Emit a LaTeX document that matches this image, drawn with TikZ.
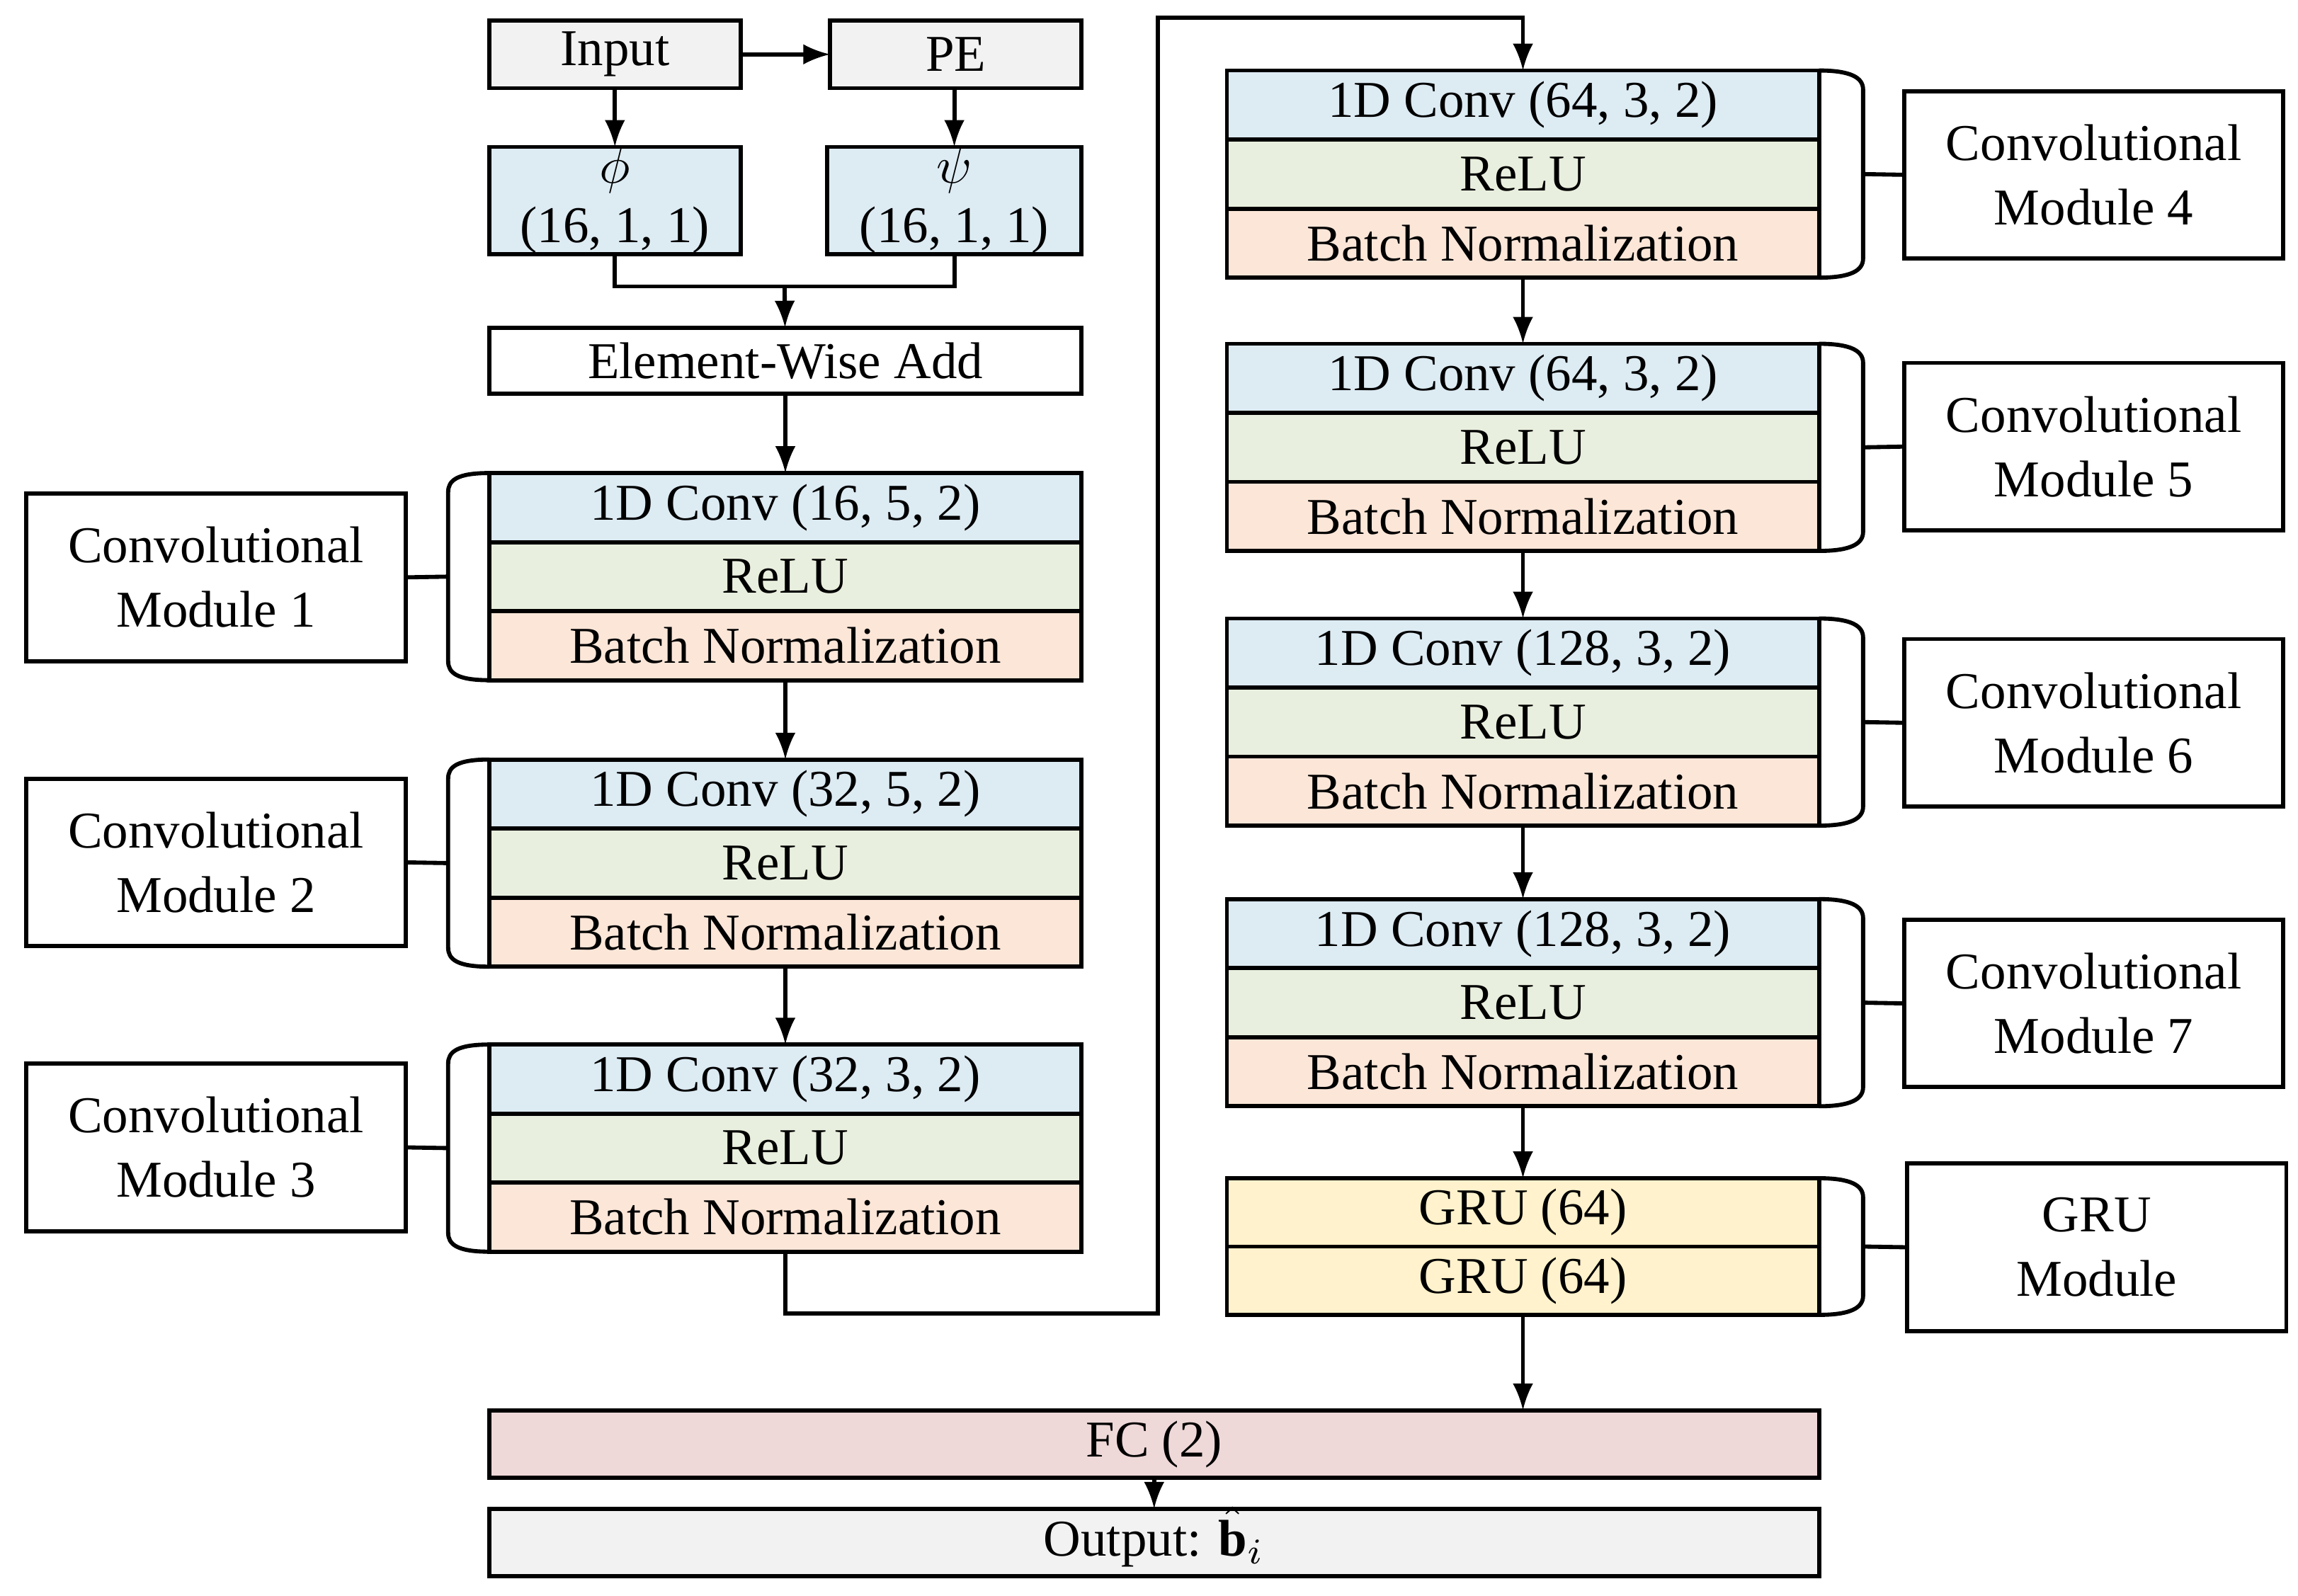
\documentclass[tikz,border=0pt]{standalone}
\usepackage{fontspec}
\setmainfont{Liberation Serif}
\usetikzlibrary{calc}
\tikzset{>=latex}
\definecolor{cblue}{HTML}{DDEBF3}
\definecolor{cgreen}{HTML}{E9EFDE}
\definecolor{corange}{HTML}{FBE6D8}
\definecolor{cyellow}{HTML}{FFF2CC}
\definecolor{cpink}{HTML}{EFD8D8}
\definecolor{cgray}{HTML}{F2F2F2}
\tikzset{
  cell/.style={draw, thick, anchor=north west, inner sep=0pt, outer sep=0pt, minimum height=0.47cm, font=\fontsize{10}{11.5}\selectfont},
  lab/.style={draw, thick, anchor=north west, inner sep=0pt, outer sep=0pt, minimum width=2.58cm, minimum height=1.14cm, align=center, font=\fontsize{10}{12.5}\selectfont},
  arr/.style={->, thick},
  brl/.style={thick},
}
% conv module: name, x, y (top), conv text
\newcommand\cmodule[4]{%
  \node[cell, fill=cblue, minimum width=4.03cm] (#1c) at (#2,#3) {#4};
  \node[cell, fill=cgreen, minimum width=4.03cm] (#1r) at (#1c.south west) {ReLU};
  \node[cell, fill=corange, minimum width=4.03cm] (#1b) at (#1r.south west) {Batch Normalization};
}
\begin{document}
\begin{tikzpicture}
\useasboundingbox (0,0) rectangle (15.64,-10.86);
% top
\node[cell, fill=cgray, minimum width=1.71cm, minimum height=0.46cm] (in) at (3.33,-0.14) {Input};
\node[cell, fill=cgray, minimum width=1.71cm, minimum height=0.46cm] (pe) at (5.65,-0.14) {PE};
\node[cell, fill=cblue, minimum width=1.71cm, minimum height=0.73cm, align=center] (phi) at (3.33,-1.00) {$\phi$\\(16, 1, 1)};
\node[cell, fill=cblue, minimum width=1.73cm, minimum height=0.73cm, align=center] (psi) at (5.63,-1.00) {$\psi$\\(16, 1, 1)};
\node[cell, fill=white, minimum width=4.03cm, minimum height=0.45cm] (add) at (3.33,-2.23) {Element-Wise Add};
\coordinate (j) at (5.34,-1.95);
\draw[arr] (in) -- (pe);
\draw[arr] (in) -- (phi);
\draw[arr] (pe.south -| psi.north) -- (psi);
\draw[thick] (phi.south) |- (j) -| (psi.south);
\draw[arr] (j) -- (add);
% left column
\cmodule{ma}{3.33}{-3.22}{1D Conv (16, 5, 2)}
\cmodule{mb}{3.33}{-5.17}{1D Conv (32, 5, 2)}
\cmodule{mc}{3.33}{-7.11}{1D Conv (32, 3, 2)}
\node[lab] (la) at (0.18,-3.36) {Convolutional\\Module 1};
\node[lab] (lb) at (0.18,-5.30) {Convolutional\\Module 2};
\node[lab] (lc) at (0.18,-7.24) {Convolutional\\Module 3};
\draw[arr] (add) -- (mac);
\draw[arr] (mab) -- (mbc);
\draw[arr] (mbb) -- (mcc);
\foreach \m/\l in {ma/la, mb/lb, mc/lc}{
  \draw[brl] (\m c.north west) .. controls +(-0.22,0) and +(0,0.08) .. ($(\m c.north west)+(-0.28,-0.13)$)
    -- ($(\m b.south west)+(-0.28,0.13)$) .. controls +(0,-0.08) and +(-0.22,0) .. (\m b.south west);
  \draw[brl] (\l.east) -- ($(\m r.west)+(-0.28,0)$);
}
% right column
\cmodule{md}{8.35}{-0.48}{1D Conv (64, 3, 2)}
\cmodule{me}{8.35}{-2.34}{1D Conv (64, 3, 2)}
\cmodule{mf}{8.35}{-4.21}{1D Conv (128, 3, 2)}
\cmodule{mg}{8.35}{-6.12}{1D Conv (128, 3, 2)}
\node[cell, fill=cyellow, minimum width=4.03cm, minimum height=0.465cm] (g1) at (8.35,-8.02) {GRU (64)};
\node[cell, fill=cyellow, minimum width=4.03cm, minimum height=0.465cm] (g2) at (g1.south west) {GRU (64)};
\node[lab] (ld) at (12.96,-0.62) {Convolutional\\Module 4};
\node[lab] (le) at (12.96,-2.47) {Convolutional\\Module 5};
\node[lab] (lf) at (12.96,-4.35) {Convolutional\\Module 6};
\node[lab] (lg) at (12.96,-6.26) {Convolutional\\Module 7};
\node[lab] (lh) at (12.98,-7.92) {GRU\\Module};
\foreach \m/\l in {md/ld, me/le, mf/lf, mg/lg}{
  \draw[brl] (\m c.north east) .. controls +(0.22,0) and +(0,0.08) .. ($(\m c.north east)+(0.30,-0.13)$)
    -- ($(\m b.south east)+(0.30,0.13)$) .. controls +(0,-0.08) and +(0.22,0) .. (\m b.south east);
  \draw[brl] (\l.west) -- ($(\m r.east)+(0.30,0)$);
}
\draw[brl] (g1.north east) .. controls +(0.22,0) and +(0,0.08) .. ($(g1.north east)+(0.30,-0.13)$)
  -- ($(g2.south east)+(0.30,0.13)$) .. controls +(0,-0.08) and +(0.22,0) .. (g2.south east);
\draw[brl] (lh.west) -- ($(g1.south east)+(0.30,0)$);
\coordinate (c1) at (7.88,-8.94);
\coordinate (c2) at (7.88,-0.12);
\draw[arr] (mcb.south) |- (c1) -- (c2) -| (mdc.north);
\draw[arr] (mdb) -- (mec);
\draw[arr] (meb) -- (mfc);
\draw[arr] (mfb) -- (mgc);
\draw[arr] (mgb) -- (g1);
% bottom
\node[cell, fill=cpink, minimum width=9.05cm, minimum height=0.46cm] (fc) at (3.33,-9.60) {FC (2)};
\node[cell, fill=cgray, minimum width=9.05cm, minimum height=0.46cm] (out) at (3.33,-10.27) {Output: \raisebox{0pt}[1.6ex][0pt]{$\hat{\mathbf{b}}_i$}};
\draw[arr] (g2.south) -- (g2.south |- fc.north);
\draw[arr] (fc) -- (out);
\end{tikzpicture}
\end{document}
